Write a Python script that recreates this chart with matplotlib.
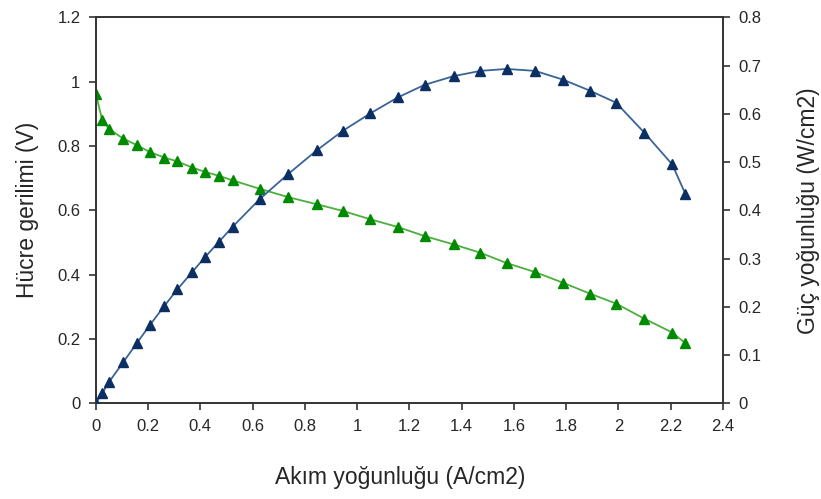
import matplotlib
matplotlib.use("Agg")
import matplotlib.pyplot as plt

plt.rcParams['font.family'] = ['Liberation Sans', 'DejaVu Sans']

# akım yoğunluğu (A/cm2)
current = [0.0, 0.025, 0.052, 0.105, 0.159, 0.207, 0.263, 0.312, 0.369, 0.420,
           0.472, 0.524, 0.627, 0.736, 0.845, 0.946, 1.051, 1.156, 1.258, 1.369,
           1.472, 1.572, 1.681, 1.787, 1.891, 1.991, 2.099, 2.206, 2.256]

# hücre gerilimi (V)
voltage = [0.963, 0.880, 0.852, 0.823, 0.802, 0.781, 0.764, 0.752, 0.733, 0.719,
           0.707, 0.693, 0.667, 0.641, 0.619, 0.598, 0.572, 0.548, 0.520, 0.494,
           0.468, 0.436, 0.408, 0.375, 0.341, 0.310, 0.263, 0.220, 0.187]

# güç yoğunluğu (W/cm2)
power = [0.0, 0.021, 0.045, 0.085, 0.126, 0.162, 0.202, 0.236, 0.272, 0.304,
         0.335, 0.366, 0.423, 0.475, 0.524, 0.565, 0.601, 0.634, 0.660, 0.678,
         0.689, 0.693, 0.689, 0.671, 0.648, 0.623, 0.561, 0.495, 0.434]

x_ticks = [0, 0.2, 0.4, 0.6, 0.8, 1, 1.2, 1.4, 1.6, 1.8, 2, 2.2, 2.4]
v_ticks = [0, 0.2, 0.4, 0.6, 0.8, 1, 1.2]
p_ticks = [0, 0.1, 0.2, 0.3, 0.4, 0.5, 0.6, 0.7, 0.8]

def fmt(v):
    return ("%g" % v)

text_col = '#262626'

fig = plt.figure(figsize=(8.21, 4.99), dpi=100)
ax = fig.add_axes([0.1166, 0.1918, 0.7640, 0.7735])
ax2 = ax.twinx()

ax.plot(current, voltage, color='#4caf3c', lw=1.3, marker='^', markersize=7.5,
        markerfacecolor='#008a00', markeredgecolor='#008a00', zorder=3)
ax2.plot(current, power, color='#3a6396', lw=1.3, marker='^', markersize=7.5,
         markerfacecolor='#0b2f63', markeredgecolor='#0b2f63', zorder=3)

ax.set_xlim(0, 2.4)
ax.set_ylim(0, 1.2)
ax2.set_ylim(0, 0.8)

ax.set_xticks(x_ticks)
ax.set_xticklabels([fmt(t) for t in x_ticks])
ax.set_yticks(v_ticks)
ax.set_yticklabels([fmt(t) for t in v_ticks])
ax2.set_yticks(p_ticks)
ax2.set_yticklabels([fmt(t) for t in p_ticks])

for a in (ax, ax2):
    a.tick_params(direction='out', length=5, width=1.2, colors='#333333',
                  labelsize=12, labelcolor=text_col, pad=6)
    for s in a.spines.values():
        s.set_color('#333333')
        s.set_linewidth(1.2)

ax.set_xlabel('Akım yoğunluğu (A/cm2)', fontsize=16.5, color=text_col)
ax.xaxis.set_label_coords(0.485, -0.163)
ax.set_ylabel('Hücre gerilimi (V)', fontsize=16.5, color=text_col, labelpad=13)
ax2.set_ylabel('Güç yoğunluğu (W/cm2)', fontsize=16.5, color=text_col, labelpad=26)

fig.savefig('out.png', dpi=100)
